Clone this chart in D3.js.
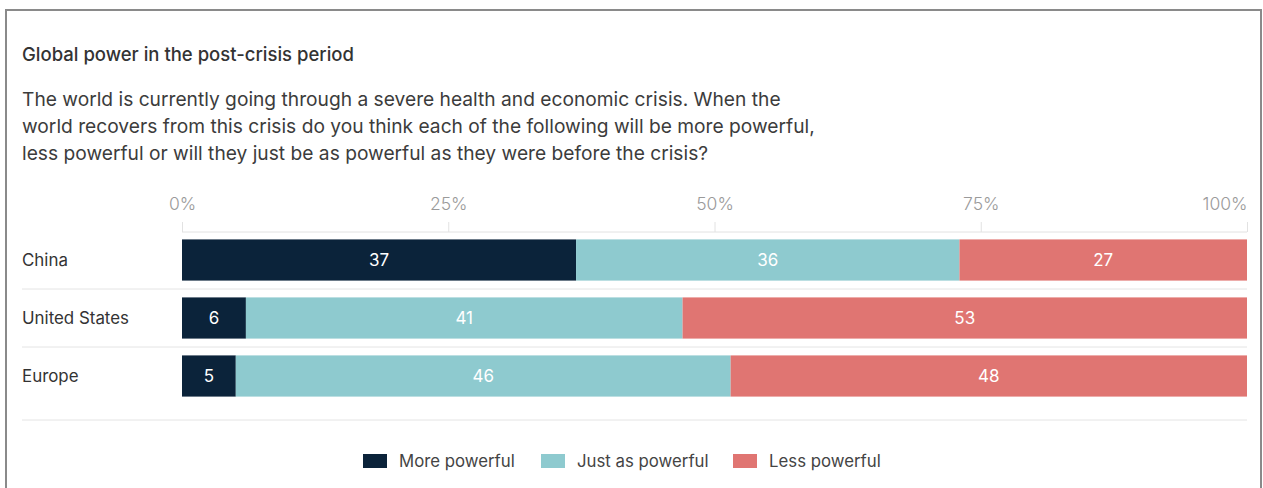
<!DOCTYPE html>
<html lang="en">
<head>
    <meta charset="UTF-8">
    <title>Global power in the post-crisis period</title>
    <script src="https://d3js.org/d3.v7.min.js"></script>
    <style>
        body { margin: 0; background: #fff; }
        svg { display: block; font-family: Inter, "Open Sans", sans-serif; }
    </style>
</head>
<body>
    <svg id="chart" width="1263" height="488"></svg>

    <script>
        const countries = ["China", "United States", "Europe"];
        const morePowerful = [37, 6, 5];
        const justAsPowerful = [36, 41, 46];
        const lessPowerful = [27, 53, 48];
        const seriesNames = ["More powerful", "Just as powerful", "Less powerful"];
        const tickValues = [0, 25, 50, 75, 100];
        const subtitleLines = [
            "The world is currently going through a severe health and economic crisis. When the",
            "world recovers from this crisis do you think each of the following will be more powerful,",
            "less powerful or will they just be as powerful as they were before the crisis?"
        ];

        const colors = ["#0b233a", "#8ecacf", "#e07572"];

        const rows = countries.map(function(c, i) {
            return { country: c, values: [morePowerful[i], justAsPowerful[i], lessPowerful[i]] };
        });

        const svg = d3.select("#chart");

        // frame
        svg.append("rect")
            .attr("x", 6).attr("y", 10)
            .attr("width", 1255).attr("height", 500)
            .attr("fill", "none")
            .attr("stroke", "#8a8a8a")
            .attr("stroke-width", 2);

        svg.append("text")
            .attr("x", 22).attr("y", 61)
            .attr("font-size", 18.5)
            .attr("font-weight", 500)
            .attr("fill", "#333")
            .text("Global power in the post-crisis period");

        svg.selectAll(".subtitle")
            .data(subtitleLines)
            .enter().append("text")
            .attr("class", "subtitle")
            .attr("x", 22)
            .attr("y", function(d, i) { return 106 + i * 27; })
            .attr("font-size", 19.2)
            .attr("fill", "#3c3c3c")
            .text(function(d) { return d; });

        const x = d3.scaleLinear().domain([0, 100]).range([182, 1247]);
        const y = d3.scaleBand()
            .domain(countries)
            .range([231, 405])
            .paddingInner(0.29)
            .paddingOuter(0.145);

        // axis
        const axis = svg.append("g")
            .attr("transform", "translate(0,232)")
            .call(d3.axisTop(x).tickValues(tickValues).tickSize(10).tickPadding(12)
                .tickFormat(function(d) { return d + "%"; }));
        axis.select(".domain").attr("stroke", "#e2e2e2").attr("d", "M182,0H1247");
        axis.selectAll(".tick line").attr("stroke", "#e2e2e2");
        axis.selectAll(".tick text")
            .attr("font-size", 17.5)
            .attr("font-weight", 300)
            .attr("font-family", "Inter, sans-serif")
            .attr("fill", "#9a9a9a")
            .attr("text-anchor", function(d) { return d === 100 ? "end" : "middle"; });

        // separators
        const step = y.step();
        const sepY = countries.slice(1).map(function(c) { return y(c) - step * y.paddingInner() / 2; });
        sepY.push(420);
        svg.selectAll(".sep")
            .data(sepY)
            .enter().append("line")
            .attr("x1", 22).attr("x2", 1247)
            .attr("y1", function(d) { return d; }).attr("y2", function(d) { return d; })
            .attr("stroke", "#e4e4e4");

        // row labels
        svg.selectAll(".rowLabel")
            .data(countries)
            .enter().append("text")
            .attr("x", 22)
            .attr("y", function(d) { return y(d) + y.bandwidth() / 2; })
            .attr("dy", "0.35em")
            .attr("font-size", 16.9)
            .attr("fill", "#333")
            .text(function(d) { return d; });

        // bars
        const segs = [];
        rows.forEach(function(r) {
            const total = d3.sum(r.values);
            let acc = 0;
            r.values.forEach(function(v, k) {
                segs.push({ country: r.country, k: k, v: v, x0: acc / total * 100, x1: (acc + v) / total * 100 });
                acc += v;
            });
        });

        svg.selectAll(".bar")
            .data(segs)
            .enter().append("rect")
            .attr("x", function(d) { return x(d.x0); })
            .attr("width", function(d) { return x(d.x1) - x(d.x0); })
            .attr("y", function(d) { return y(d.country); })
            .attr("height", y.bandwidth())
            .attr("fill", function(d) { return colors[d.k]; });

        svg.selectAll(".val")
            .data(segs)
            .enter().append("text")
            .attr("x", function(d) { return (x(d.x0) + x(d.x1)) / 2; })
            .attr("y", function(d) { return y(d.country) + y.bandwidth() / 2; })
            .attr("dy", "0.35em")
            .attr("text-anchor", "middle")
            .attr("font-size", 17)
            .attr("fill", "#fff")
            .text(function(d) { return d.v; });

        // legend
        const legendX = [363, 541, 733];
        const legend = svg.selectAll(".legend")
            .data(seriesNames)
            .enter().append("g")
            .attr("transform", function(d, i) { return "translate(" + legendX[i] + ",454)"; });
        legend.append("rect")
            .attr("width", 24).attr("height", 14)
            .attr("fill", function(d, i) { return colors[i]; });
        legend.append("text")
            .attr("x", 36).attr("y", 7)
            .attr("dy", "0.35em")
            .attr("font-size", 16.8)
            .attr("fill", "#444")
            .text(function(d) { return d; });
    </script>
</body>
</html>
